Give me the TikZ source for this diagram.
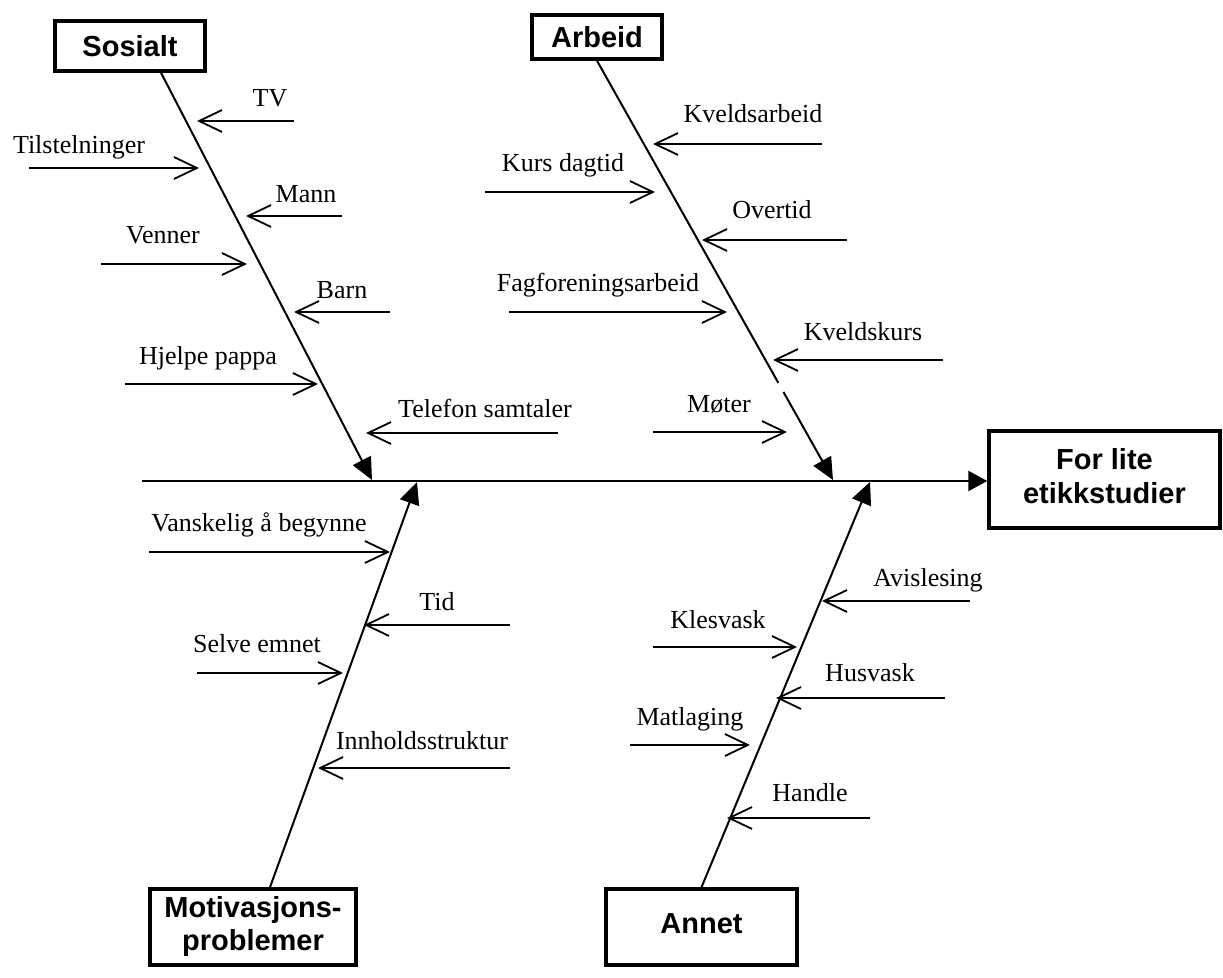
\documentclass[tikz,border=0pt]{standalone}
\usepackage{fontspec}
\setmainfont{Liberation Serif}
\newfontfamily\boxfamily{Liberation Sans}
\usetikzlibrary{arrows.meta,calc}
\newcommand\fbcause[7]{%
  \node[lbl] (#1) at (#3,#4) {#2};
  \coordinate (#1-a) at (#5,#7);
  \coordinate (#1-b) at (#6,#7);
  \draw[causearrow] (#1-a) -- (#1-b);
}
\tikzset{
  lbl/.style={anchor=base, inner sep=0pt, font=\fontsize{13}{15}\selectfont},
  causearrow/.style={line width=0.9pt, -{Straight Barb[length=11.5pt,width=11pt,line width=0.9pt]}},
  catbox/.style={draw, line width=1.75pt, fill=white, align=center, inner sep=0pt,
    font=\boxfamily\bfseries\fontsize{14.5}{16.5}\selectfont},
  bone/.style={line width=1pt, -{Triangle[length=11pt,width=10pt]}},
  bonepart/.style={line width=1pt},
  spine/.style={line width=1.2pt, -{Triangle[length=9.5pt,width=10pt]}}
}
\begin{document}
\begin{tikzpicture}[x=0.5pt,y=-0.5pt]
\useasboundingbox (0,0) rectangle (1223,978);

% category boxes
\node[catbox, minimum width=75pt, minimum height=25pt] (sos) at (130,46) {Sosialt};
\node[catbox, minimum width=65pt, minimum height=22pt] (arb) at (597,37) {Arbeid};
\node[catbox, minimum width=115.5pt, minimum height=48.5pt] (eff) at (1104.5,479.5) {\raisebox{1.5pt}{\begin{tabular}{@{}c@{}}For lite\\[0.5pt]etikkstudier\end{tabular}}};
\node[catbox, minimum width=103pt, minimum height=38pt] (mot) at (253,927) {\raisebox{-3.5pt}{\begin{tabular}{@{}c@{}}Motivasjons-\\problemer\end{tabular}}};
\node[catbox, minimum width=95.5pt, minimum height=38pt] (ann) at (701.5,927) {\raisebox{3pt}{Annet}};

% spine
\coordinate (spS) at (142,481);
\draw[spine] (spS) -- (spS -| eff.west);

% bones
\coordinate (sosT) at (372,480);
\coordinate (arbT) at (833,480);
\coordinate (motT) at (417,482);
\coordinate (annT) at (870,482);
\draw[bone] ([xshift=15.5pt]sos.south) -- (sosT);
\draw[bonepart] (arb.south) -- ($(arb.south)!0.7685!(arbT)$);
\draw[bone] ($(arb.south)!0.79!(arbT)$) -- (arbT);
\draw[bone] ([xshift=8.5pt]mot.north) -- (motT);
\draw[bone] (ann.north) -- (annT);

% Sosialt causes
\fbcause{tv}{TV}{270}{107}{294}{197}{121}
\fbcause{til}{Tilstelninger}{79}{154}{29}{199}{168}
\fbcause{man}{Mann}{306}{203}{342}{246}{216}
\fbcause{ven}{Venner}{163}{244}{101}{247}{264}
\fbcause{bar}{Barn}{342}{299}{390}{294}{312}
\fbcause{hje}{Hjelpe pappa}{208}{365}{125}{318}{384}
\fbcause{tel}{Telefon samtaler}{485}{418}{558}{366}{433}

% Arbeid causes
\fbcause{kva}{Kveldsarbeid}{753}{123}{822}{653}{144}
\fbcause{kur}{Kurs dagtid}{563}{172}{485}{655}{192}
\fbcause{ove}{Overtid}{772}{219}{847}{702}{240}
\fbcause{fag}{Fagforeningsarbeid}{598}{292}{509}{727}{312}
\fbcause{kvk}{Kveldskurs}{863}{341}{943}{773}{360}
\fbcause{mot2}{Møter}{719}{413}{653}{787}{432}

% Motivasjon causes
\fbcause{van}{Vanskelig å begynne}{259}{532}{149}{390}{552}
\fbcause{tid}{Tid}{437}{611}{510}{364}{625}
\fbcause{sel}{Selve emnet}{257}{653}{197}{343}{673}
\fbcause{inn}{Innholdsstruktur}{422}{750}{510}{318}{768}

% Annet causes
\fbcause{avi}{Avislesing}{928}{587}{970}{822}{601}
\fbcause{kle}{Klesvask}{718}{629}{653}{797}{647}
\fbcause{hus}{Husvask}{870}{682}{945}{776}{698}
\fbcause{mat}{Matlaging}{690}{726}{630}{750}{745}
\fbcause{han}{Handle}{810}{802}{870}{727}{818}
\end{tikzpicture}
\end{document}
